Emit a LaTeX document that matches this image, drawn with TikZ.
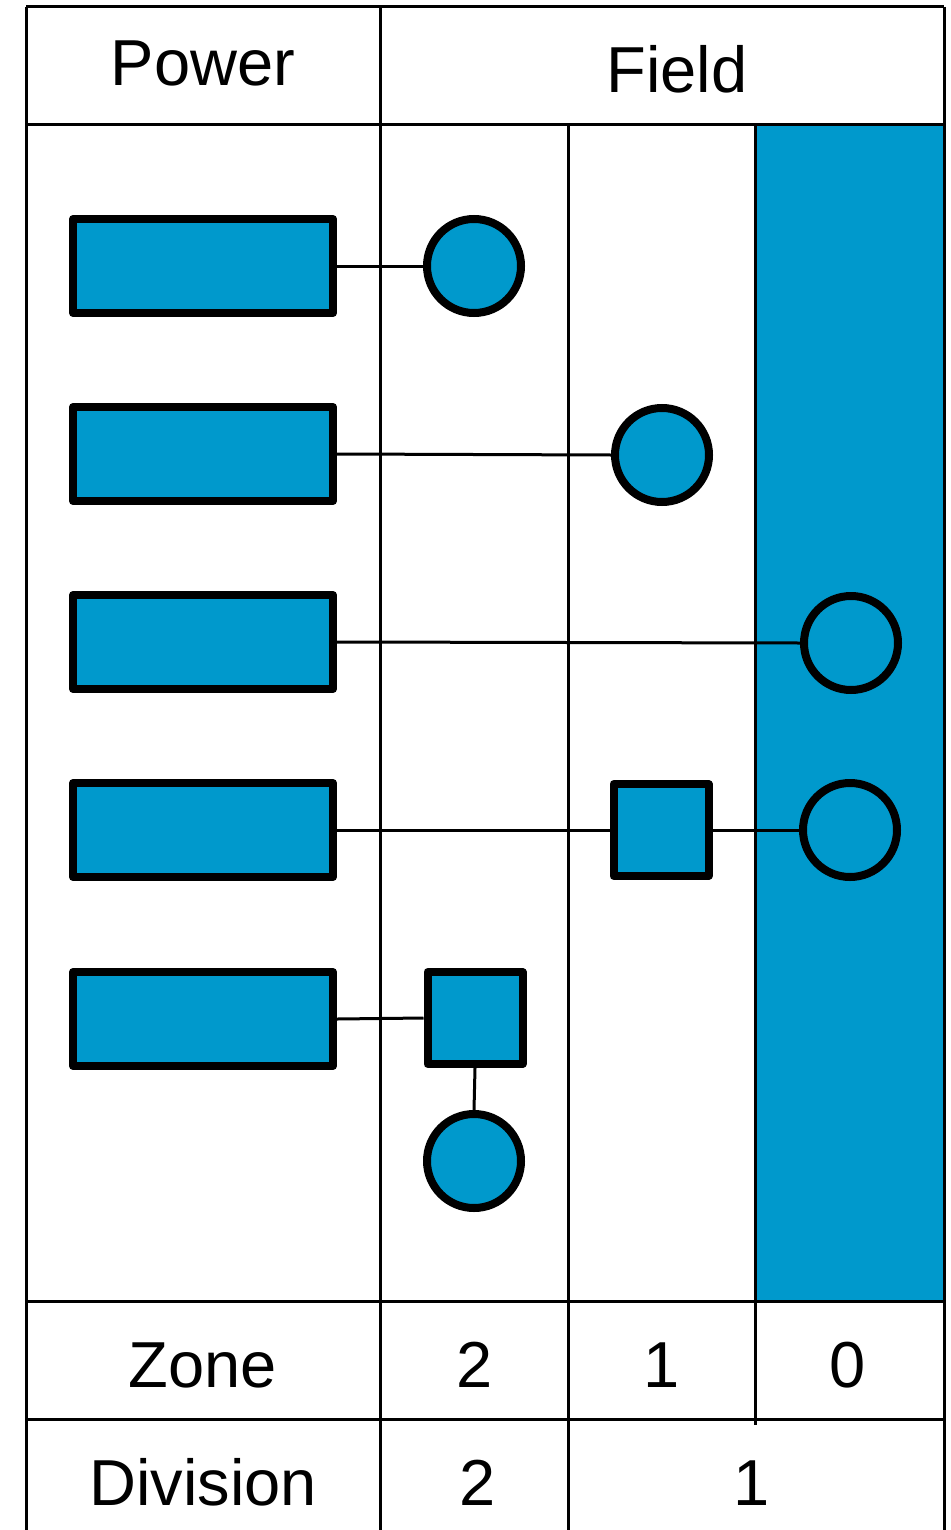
\documentclass[tikz,border=0pt]{standalone}
\usepackage{fontspec}
\setmainfont{Liberation Sans}
\definecolor{zoneblue}{RGB}{0,153,204}
\begin{document}
\begin{tikzpicture}[x=1pt,y=-1pt,
  grid/.style={draw=black,line width=3pt},
  lbl/.style={inner sep=0pt,anchor=base,font=\fontsize{65}{78}\selectfont},
  powerbox/.style={draw=black,fill=zoneblue,line width=8pt,line join=round,rectangle,minimum width=260pt,minimum height=94pt,inner sep=0pt},
  devbox/.style={draw=black,fill=zoneblue,line width=8pt,line join=round,rectangle,minimum width=95pt,minimum height=92pt,inner sep=0pt},
  devcirc/.style={draw=black,fill=zoneblue,line width=8pt,circle,minimum size=94pt,inner sep=0pt},
  wire/.style={draw=black,line width=3pt}]
\useasboundingbox (0,0) rectangle (950,1530);
% zone 0 shading
\fill[zoneblue] (756,125) rectangle (944,1301);
% table lines
\draw[grid] (26,7) -- (944,7);
\draw[grid] (26,7) -- (26,1530);
\draw[grid] (944,7) -- (944,1530);
\draw[grid] (26,125) -- (944,125);
\draw[grid] (26,1301) -- (944,1301);
\draw[grid] (26,1419) -- (944,1419);
\draw[grid] (380,7) -- (380,1530);
\draw[grid] (568,125) -- (568,1530);
\draw[grid] (755,125) -- (755,1425);
% labels
\node[lbl] (tPower) at (203,86) {Power};
\node[lbl] (tField) at (677,93) {Field};
\node[lbl] (tZone) at (203,1387) {Zone};
\node[lbl] (tZ2) at (475,1387) {2};
\node[lbl] (tZ1) at (662,1387) {1};
\node[lbl] (tZ0) at (848,1387) {0};
\node[lbl] (tDiv) at (203,1505) {Division};
\node[lbl] (tD2) at (478,1505) {2};
\node[lbl] (tD1) at (752,1505) {1};
% power boxes
\node[powerbox] (r1) at (203,266) {};
\node[powerbox] (r2) at (203,454) {};
\node[powerbox] (r3) at (203,642) {};
\node[powerbox] (r4) at (203,830) {};
\node[powerbox] (r5) at (203,1019) {};
% field devices
\node[devcirc] (c1) at (474,266) {};
\node[devcirc] (c2) at (662,455) {};
\node[devcirc] (c3) at (851,643) {};
\node[devbox] (s4) at (661,830) {};
\node[devcirc] (c4) at (850,830) {};
\node[devbox] (s5) at (475,1018) {};
\node[devcirc] (c5) at (474,1161) {};
% wires
\draw[wire] (r1.east) -- (c1.west);
\draw[wire] (r2.east) -- (c2.west);
\draw[wire] (r3.east) -- (c3.west);
\draw[wire] (r4.east) -- (s4.west);
\draw[wire] (s4.east) -- (c4.west);
\draw[wire] (r5.east) -- (s5.west);
\draw[wire] (s5.south) -- (c5.north);
\end{tikzpicture}
\end{document}
